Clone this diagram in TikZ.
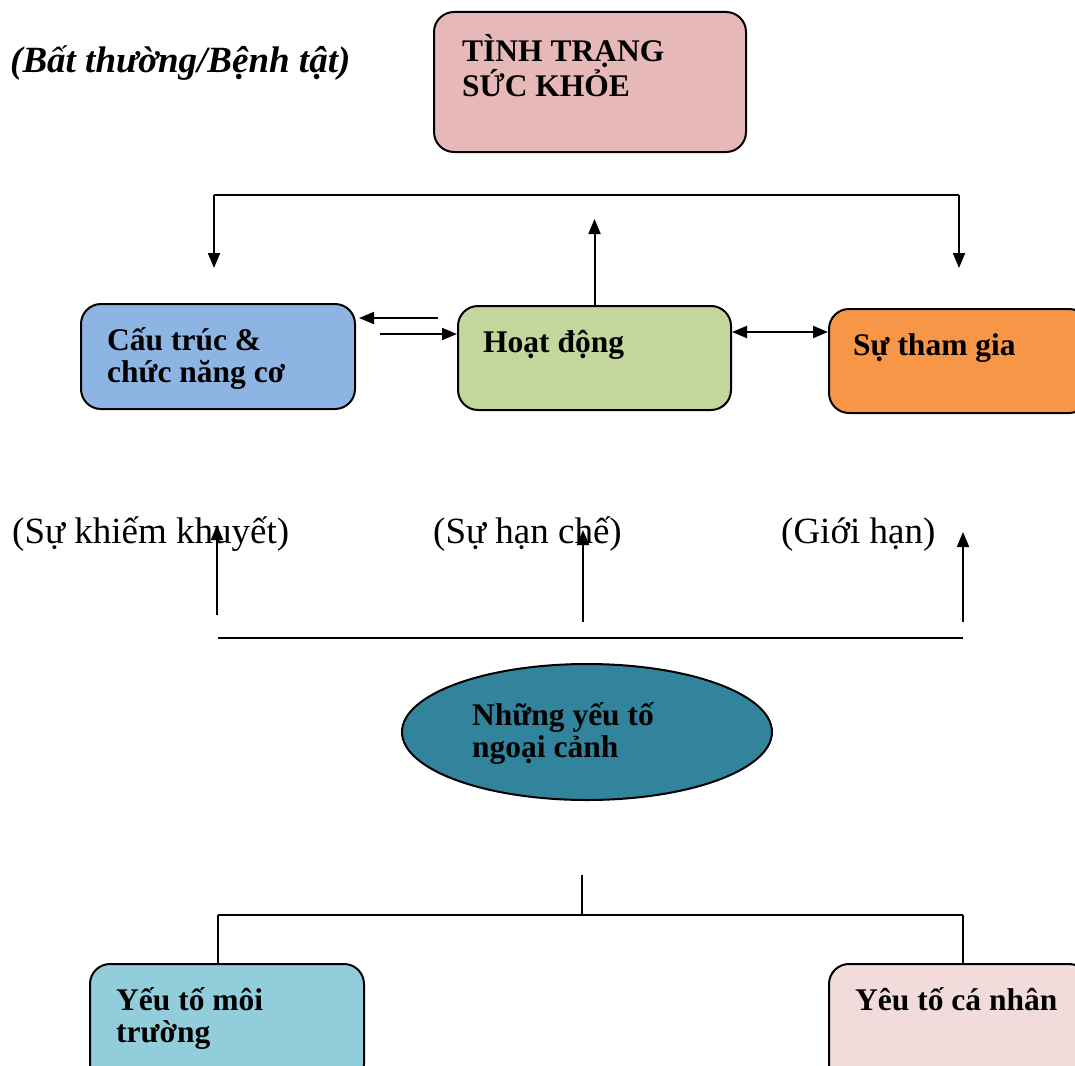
\documentclass[tikz,border=0pt]{standalone}
\usepackage{fontspec}
\setmainfont{Liberation Serif}
\usetikzlibrary{arrows.meta,shapes.geometric}
\definecolor{healthpink}{HTML}{E6B8B7}
\definecolor{bodyblue}{HTML}{8EB4E3}
\definecolor{actgreen}{HTML}{C3D69B}
\definecolor{partorange}{HTML}{F79646}
\definecolor{ctxteal}{HTML}{31849B}
\definecolor{envcyan}{HTML}{92CDDC}
\definecolor{perspink}{HTML}{F2DCDB}

\begin{document}
\begin{tikzpicture}[x=1pt,y=-1pt,
  box/.style={draw,line width=2pt,rounded corners=20pt,inner sep=0pt},
  lbl/.style={anchor=base west,inner sep=0pt,align=left,font=\bfseries\fontsize{31.5}{32}\selectfont},
  note/.style={anchor=base west,inner sep=0pt,font=\fontsize{37}{38}\selectfont},
  link/.style={line width=2pt},
  arr/.style={line width=2pt,-{Triangle[length=15pt,width=12pt]}},
  arrs/.style={line width=2pt,{Triangle[length=15pt,width=12pt]}-{Triangle[length=15pt,width=12pt]}}]
\path[use as bounding box,clip] (0,0) rectangle (1075,1065);

% boxes
\node[box,fill=healthpink,minimum width=312pt,minimum height=140pt] (health) at (590,82) {};
\node[box,fill=bodyblue,minimum width=274pt,minimum height=105pt] (body) at (218,356.5) {};
\node[box,fill=actgreen,minimum width=273pt,minimum height=104pt] (activity) at (594.5,358) {};
\node[box,fill=partorange,minimum width=260pt,minimum height=104pt] (particip) at (959,361) {};
\node[ellipse,draw,line width=2pt,fill=ctxteal,minimum width=370pt,minimum height=136pt] (context) at (587,732) {};
\node[box,fill=envcyan,minimum width=274pt,minimum height=120pt] (env) at (227,1024) {};
\node[box,fill=perspink,minimum width=260pt,minimum height=120pt] (person) at (959,1024) {};

% texts (multi-line ones sit on their last baseline)
\node[lbl,font=\bfseries\itshape\fontsize{37}{38}\selectfont] (disorder) at (10,72) {(Bất thường/Bệnh tật)};
\node[lbl] (healthtxt) at (462,96) {TÌNH TRẠNG\\SỨC KHỎE};
\node[lbl] (bodytxt) at (107,382) {Cấu trúc \&\\chức năng cơ};
\node[lbl] (acttxt) at (483,352) {Hoạt động};
\node[lbl] (parttxt) at (853,355) {Sự tham gia};
\node[lbl] (ctxtxt) at (472,757) {Những yếu tố\\ngoại cảnh};
\node[lbl] (envtxt) at (116,1042) {Yếu tố môi\\trường};
\node[lbl] (perstxt) at (855,1010) {Yêu tố cá nhân};
\node[note] (impair) at (12,543) {(Sự khiếm khuyết)};
\node[note] (limit) at (433,543) {(Sự hạn chế)};
\node[note] (restrict) at (781,543) {(Giới hạn)};

% top bracket
\coordinate (topL) at (214,195);
\coordinate (topR) at (959,195);
\draw[link] (topL) -- (topR);
\draw[arr] (topL) -- ++(0,73);
\draw[arr] (topR) -- ++(0,73);
\draw[arr] (activity.north) -- ++(0,-86);

% side arrows
\coordinate (backA) at (438,318);
\coordinate (backB) at (359,318);
\coordinate (fwdA) at (380,334);
\draw[arr] (backA) -- (backB);
\draw[arr] (fwdA) -- (fwdA -| activity.west);
\draw[arrs] ([yshift=26pt]activity.east) -- ([yshift=26pt]activity.east -| particip.west);

% arrows up to the outcomes
\coordinate (baseL) at (218,638);
\coordinate (baseR) at (963,638);
\draw[link] (baseL) -- (baseR);
\draw[arr] (217,615) -- (217,525);
\draw[arr] (583,622) -- (583,530);
\draw[arr] (963,622) -- (963,532);

% fork down to the factors
\coordinate (stem) at (582,875);
\coordinate (forkL) at (218,915);
\coordinate (forkR) at (963,915);
\draw[link] (stem) -- (stem |- forkL);
\draw[link] (forkL) -- (forkR);
\draw[link] (forkL) -- (forkL |- env.north);
\draw[link] (forkR) -- (forkR |- person.north);
\end{tikzpicture}
\end{document}
